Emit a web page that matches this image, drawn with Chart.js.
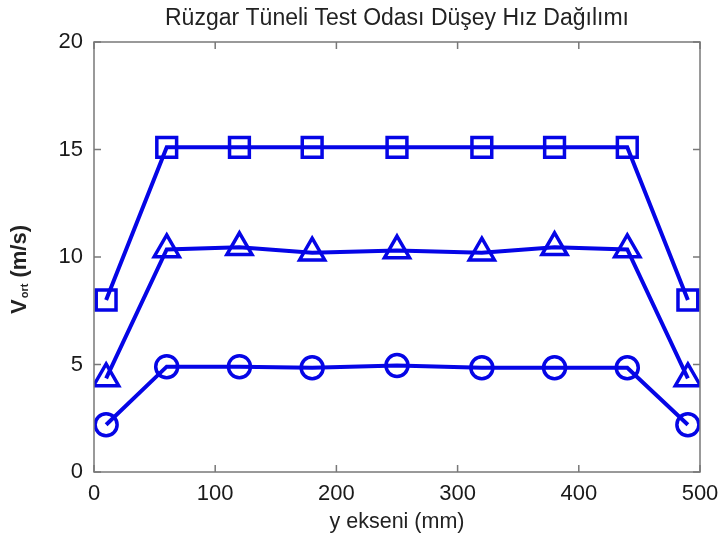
<!DOCTYPE html>
<html>
<head>
<meta charset="utf-8">
<script src="https://cdn.jsdelivr.net/npm/chart.js@4.4.1/dist/chart.umd.min.js"></script>
<style>
  html, body { margin: 0; padding: 0; background: #fff; }
  #wrap { width: 718px; height: 537px; }
</style>
</head>
<body>
<div id="wrap"><canvas id="myChart" width="718" height="537"></canvas></div>
<script>
// y positions along the test section (mm)
const yPositions = [10, 60, 120, 180, 250, 320, 380, 440, 490];

// mean vertical velocity for each run (m/s)
const squareRun   = [8.0, 15.1, 15.1, 15.1, 15.1, 15.1, 15.1, 15.1, 8.0];
const triangleRun = [4.35, 10.35, 10.45, 10.2, 10.3, 10.2, 10.45, 10.35, 4.35];
const circleRun   = [2.2, 4.9, 4.9, 4.85, 4.95, 4.85, 4.85, 4.85, 2.2];

const xTicks = [0, 100, 200, 300, 400, 500];
const yTicks = [0, 5, 10, 15, 20];

const BLUE = 'rgb(5, 5, 230)';
const FRAME = 'rgb(120, 120, 120)';
const FONT = "'Liberation Sans', Arial, Helvetica, sans-serif";

function makeSeries(values, style, radius) {
  return {
    data: yPositions.map((x, i) => ({ x: x, y: values[i] })),
    borderColor: BLUE,
    backgroundColor: 'rgba(0,0,0,0)',
    borderWidth: 4,
    pointStyle: style,
    pointRadius: radius,
    pointHoverRadius: radius,
    pointBorderWidth: 3.5,
    pointBorderColor: BLUE,
    pointBackgroundColor: 'rgba(0,0,0,0)',
    tension: 0
  };
}

// box round the plot and inward tick marks, matlab style
const boxPlugin = {
  id: 'box',
  afterDatasetsDraw(chart) {
    const ctx = chart.ctx;
    const a = chart.chartArea;
    const xs = chart.scales.x, ys = chart.scales.y;
    ctx.save();
    ctx.strokeStyle = FRAME;
    ctx.lineWidth = 1.5;
    ctx.strokeRect(a.left, a.top, a.right - a.left, a.bottom - a.top);
    ctx.beginPath();
    xTicks.forEach(v => {
      const px = xs.getPixelForValue(v);
      ctx.moveTo(px, a.bottom); ctx.lineTo(px, a.bottom - 7);
      ctx.moveTo(px, a.top); ctx.lineTo(px, a.top + 7);
    });
    yTicks.forEach(v => {
      const py = ys.getPixelForValue(v);
      ctx.moveTo(a.left, py); ctx.lineTo(a.left + 7, py);
      ctx.moveTo(a.right, py); ctx.lineTo(a.right - 7, py);
    });
    ctx.stroke();
    ctx.restore();
  },
  afterDraw(chart) {
    // y title with subscript: V_ort (m/s)
    const ctx = chart.ctx;
    ctx.save();
    ctx.translate(20, 270);
    ctx.rotate(-Math.PI / 2);
    ctx.fillStyle = '#222';
    ctx.textBaseline = 'middle';
    const big = 'bold 22px ' + FONT;
    const small = 'bold 11px ' + FONT;
    ctx.font = big;
    const wV = ctx.measureText('V').width;
    const wRest = ctx.measureText(' (m/s)').width;
    ctx.font = small;
    const wSub = ctx.measureText('ort').width;
    let x = -(wV + wSub + wRest) / 2;
    ctx.textAlign = 'left';
    ctx.font = big;
    ctx.fillText('V', x, 0);
    x += wV;
    ctx.font = small;
    ctx.fillText('ort', x + 1, 5);
    x += wSub + 1;
    ctx.font = big;
    ctx.fillText(' (m/s)', x, 0);
    ctx.restore();
  }
};

const config = {
  type: 'line',
  data: {
    datasets: [
      makeSeries(squareRun, 'rect', 14),
      makeSeries(triangleRun, 'triangle', 14.5),
      makeSeries(circleRun, 'circle', 11)
    ]
  },
  options: {
    responsive: false,
    animation: false,
    events: [],
    layout: { padding: { left: 0, right: 16, top: 0, bottom: 0 } },
    plugins: {
      legend: { display: false },
      tooltip: { enabled: false },
      title: {
        display: true,
        fullSize: false,
        text: 'Rüzgar Tüneli Test Odası Düşey Hız Dağılımı',
        color: '#222',
        font: { family: FONT, size: 23, weight: 'normal' },
        padding: { top: 5, bottom: 9.4 }
      }
    },
    scales: {
      x: {
        type: 'linear',
        min: 0,
        max: 500,
        afterBuildTicks: s => { s.ticks = xTicks.map(v => ({ value: v })); },
        afterFit: s => { s.height = 65; s.paddingLeft = 0; s.paddingRight = 0; },
        grid: { display: false, drawTicks: false },
        border: { display: false },
        ticks: {
          padding: 9,
          color: '#1a1a1a',
          font: { family: FONT, size: 22 },
          maxRotation: 0
        },
        title: {
          display: true,
          text: 'y ekseni (mm)',
          color: '#222',
          font: { family: FONT, size: 21.5 },
          padding: { top: 0, bottom: 2 }
        }
      },
      y: {
        min: 0,
        max: 20,
        afterBuildTicks: s => { s.ticks = yTicks.map(v => ({ value: v })); },
        afterFit: s => { s.width = 94; s.paddingTop = 0; s.paddingBottom = 0; },
        grid: { display: false, drawTicks: false },
        border: { display: false },
        ticks: {
          padding: 11,
          color: '#1a1a1a',
          font: { family: FONT, size: 22 }
        }
      }
    }
  },
  plugins: [boxPlugin]
};

const myChart = new Chart(document.getElementById('myChart'), config);
</script>
</body>
</html>
